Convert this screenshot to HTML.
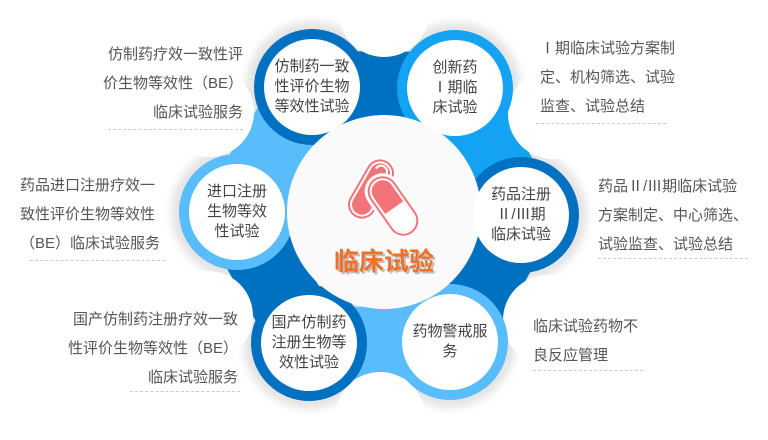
<!DOCTYPE html>
<html><head><meta charset="utf-8"><style>
html,body{margin:0;width:768px;height:440px;background:#fff;overflow:hidden;position:relative;font-family:"Liberation Sans","Noto Sans CJK SC",sans-serif}
.t{position:absolute;font-size:15px;color:#555;line-height:29px;white-space:nowrap}
.d{position:absolute;border-top:1px dashed #ccc;height:0}
.c{position:absolute;font-size:15px;color:#444;text-align:center;line-height:20px;width:96px}
</style></head><body>
<svg width="768" height="440" style="position:absolute;left:0;top:0">
<defs><filter id="sh" x="-20%" y="-20%" width="140%" height="140%"><feGaussianBlur stdDeviation="4"/></filter></defs>
<g fill="#e4e4e4" filter="url(#sh)">
<circle cx="312" cy="87" r="66"/><circle cx="455" cy="88" r="66"/><circle cx="521" cy="215" r="66"/>
<circle cx="450" cy="342" r="66"/><circle cx="309" cy="343" r="66"/><circle cx="237" cy="212" r="66"/>
</g>
<g stroke-width="72" stroke-linecap="round">
<line x1="312" y1="87" x2="455" y2="88" stroke="#0070c0"/>
<line x1="455" y1="88" x2="521" y2="215" stroke="#14a2f2"/>
<line x1="521" y1="215" x2="450" y2="342" stroke="#0070c0"/>
<line x1="450" y1="342" x2="309" y2="343" stroke="#59bdfc"/>
<line x1="309" y1="343" x2="237" y2="212" stroke="#0070c0"/>
<line x1="237" y1="212" x2="312" y2="87" stroke="#59bdfc"/>
</g>
<g fill="#fff">
<circle cx="384" cy="12" r="45"/>
<circle cx="553" cy="114" r="45"/>
<circle cx="548" cy="320" r="45"/>
<circle cx="380" cy="417" r="45"/>
<circle cx="208" cy="316" r="45"/>
<circle cx="209" cy="112" r="45"/>
</g>
<circle cx="312" cy="87" r="58" fill="#0070c0"/>
<circle cx="455" cy="88" r="58" fill="#14a2f2"/>
<circle cx="521" cy="215" r="58" fill="#0070c0"/>
<circle cx="450" cy="342" r="58" fill="#59bdfc"/>
<circle cx="309" cy="343" r="58" fill="#0070c0"/>
<circle cx="237" cy="212" r="58" fill="#59bdfc"/>
<circle cx="384" cy="212" r="97" fill="#fafafa"/>
<g fill="#fff">
<circle cx="312" cy="87" r="48"/><circle cx="455" cy="88" r="48"/><circle cx="521" cy="215" r="48"/>
<circle cx="450" cy="342" r="48"/><circle cx="309" cy="343" r="48"/><circle cx="237" cy="212" r="48"/>
</g>
<g transform="translate(371,189) rotate(30)">
<rect x="-17" y="-35" width="34" height="70" rx="17" fill="#fff"/>
<rect x="-14" y="-32" width="28" height="64" rx="14" fill="#f27378"/>
<rect x="-11" y="-29" width="22" height="58" rx="11" fill="none" stroke="#fff" stroke-width="2"/>
<path d="M-6 -20 A6 6 0 0 1 6 -20" fill="none" stroke="#fff" stroke-width="2"/>
</g>
<g transform="translate(393,206) rotate(-35)">
<rect x="-18" y="-36" width="36" height="72" rx="18" fill="#fff"/>
<rect x="-15" y="-33" width="30" height="66" rx="15" fill="#f27378"/>
<rect x="-12" y="-30" width="24" height="60" rx="12" fill="none" stroke="#fff" stroke-width="2"/>
<path d="M-11 2 H11 V18 A11 11 0 0 1 -11 18 Z" fill="#fff"/>
</g>
<text x="386" y="272" text-anchor="middle" font-size="25" font-weight="bold" fill="#999" opacity="0.6" font-family="Liberation Sans,Noto Sans CJK SC,sans-serif">临床试验</text>
<text x="384" y="270" text-anchor="middle" font-size="25" font-weight="bold" fill="#f07028" font-family="Liberation Sans,Noto Sans CJK SC,sans-serif">临床试验</text>
</svg>
<div class="c" style="left:264px;top:57px">仿制药一致<br>性评价生物<br>等效性试验</div>
<div class="c" style="left:407px;top:58px">创新药<br>Ⅰ期临<br>床试验</div>
<div class="c" style="left:473px;top:185px">药品注册<br>Ⅱ/Ⅲ期<br>临床试验</div>
<div class="c" style="left:402px;top:322px">药物警戒服<br>务</div>
<div class="c" style="left:261px;top:313px">国产仿制药<br>注册生物等<br>效性试验</div>
<div class="c" style="left:189px;top:182px">进口注册<br>生物等效<br>性试验</div>

<div class="t" style="right:525px;top:40px;text-align:right">仿制药疗效一致性评<br>价生物等效性（BE）<br>临床试验服务</div>
<div class="d" style="left:108px;width:135px;top:129px"></div>
<div class="t" style="left:20px;top:171px">药品进口注册疗效一<br>致性评价生物等效性<br>（BE）临床试验服务</div>
<div class="d" style="left:30px;width:135px;top:260px"></div>
<div class="t" style="right:530px;top:305px;text-align:right">国产仿制药注册疗效一致<br>性评价生物等效性（BE）<br>临床试验服务</div>
<div class="d" style="left:130px;width:110px;top:391px"></div>
<div class="t" style="left:540px;top:34px">Ⅰ期临床试验方案制<br>定、机构筛选、试验<br>监查、试验总结</div>
<div class="d" style="left:536px;width:130px;top:123px"></div>
<div class="t" style="left:598px;top:172px">药品Ⅱ/Ⅲ期临床试验<br>方案制定、中心筛选、<br>试验监查、试验总结</div>
<div class="d" style="left:598px;width:150px;top:258px"></div>
<div class="t" style="left:533px;top:312px">临床试验药物不<br>良反应管理</div>
<div class="d" style="left:533px;width:110px;top:370px"></div>
</body></html>
